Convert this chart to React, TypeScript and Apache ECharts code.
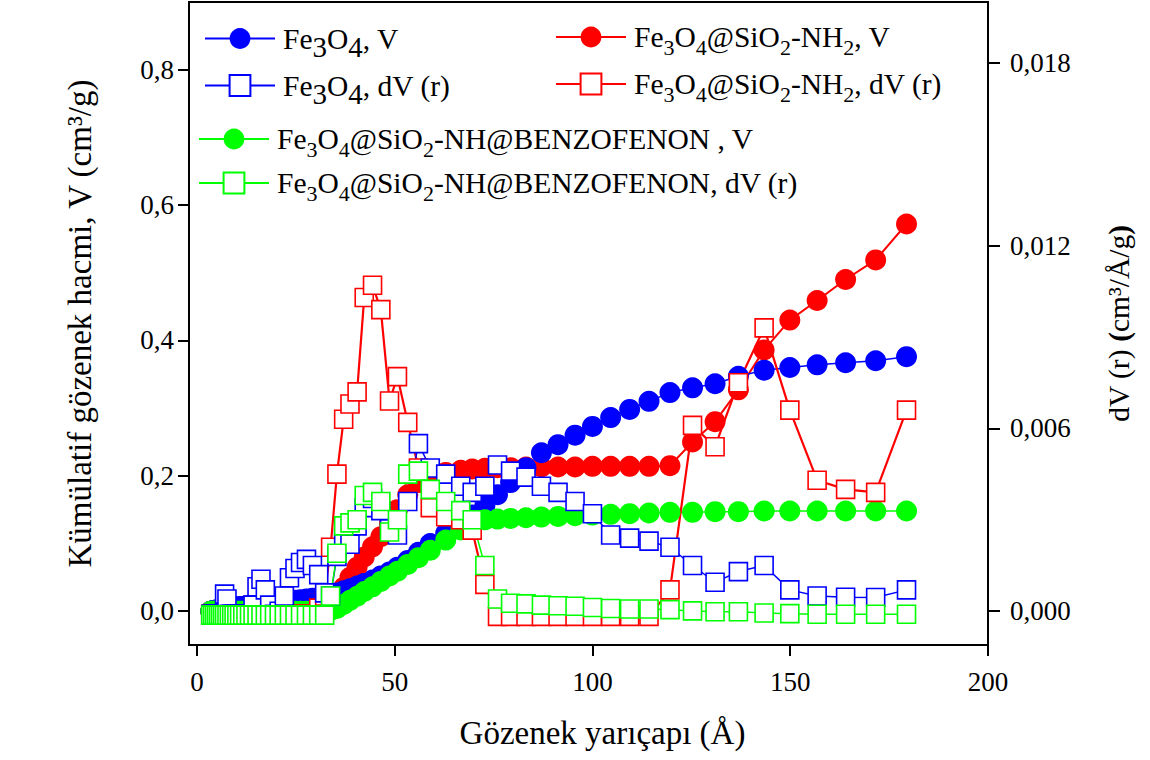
import React, { useEffect, useRef } from 'react';
import * as echarts from 'echarts';

const FONT = 'Liberation Serif';

// Pore radius (Å)
const radius = [
  3.5, 4.0, 4.5, 5.0, 5.5, 6.0, 6.5, 7.0,
  7.6, 8.2, 8.8, 9.4,
  10.1, 10.8, 11.6, 12.4, 13.3, 14.2, 15.2, 16.2, 17.3, 18.4,
  19.6, 20.8, 22.1, 23.4, 24.8, 26.2, 27.7, 29.2, 30.8, 32.3,
  33.8, 35.4, 37.1, 38.7, 40.5, 42.3, 44.4, 46.5, 48.7, 50.7,
  53.3, 56.0, 59.0, 62.9, 66.7, 69.6, 72.8, 76.0, 79.3, 83.2,
  87.1, 91.3, 95.6, 100.0, 104.6, 109.4, 114.3, 119.6, 125.3, 131.0,
  136.9, 143.4, 149.9, 156.8, 164.0, 171.6, 179.4,
];

// Fe3O4 cumulative pore volume V (cm3/g)
const fe3o4V = [
  0.000, 0.001, 0.001, 0.002, 0.002, 0.003, 0.003, 0.004,
  0.004, 0.005, 0.005, 0.006,
  0.006, 0.007, 0.007, 0.008, 0.008, 0.009, 0.010, 0.010, 0.011, 0.012,
  0.012, 0.013, 0.014, 0.015, 0.016, 0.017, 0.018, 0.019, 0.020, 0.022,
  0.024, 0.027, 0.030, 0.033, 0.037, 0.041, 0.046, 0.052, 0.058, 0.065,
  0.075, 0.087, 0.100, 0.115, 0.130, 0.142, 0.156, 0.172, 0.190, 0.212,
  0.234, 0.246, 0.260, 0.273, 0.286, 0.298, 0.310, 0.323, 0.330, 0.336,
  0.347, 0.356, 0.360, 0.364, 0.367, 0.370, 0.376,
];

// Fe3O4 dV(r) (cm3/Å/g)
const fe3o4DV = [
  -0.0001, -0.0001, -0.0001, -0.0001, -0.0001, -0.0001, -0.0001, 0.00056,
  0.0004, -0.0001, -0.0001, -0.0001,
  -0.0001, -0.0001, -0.0001, -0.0001, -0.0001, 0.0002, 0.0008, 0.00105, 0.0007, 0.0002,
  -0.0001, 0.0000, 0.0005, 0.0011, 0.0014, 0.0016, 0.0017, 0.0015, 0.0012, 0.0006,
  0.0005, 0.0018, 0.0024, 0.0022, 0.0028, 0.0034, 0.0037, 0.0033, 0.0027, 0.0025,
  0.0036, 0.0055, 0.0047, 0.0045, 0.0041, 0.0039, 0.0041, 0.0048, 0.0046, 0.0044,
  0.0041, 0.0039, 0.0036, 0.0032, 0.0025, 0.0024, 0.0023, 0.0021, 0.0015, 0.00095,
  0.0013, 0.0015, 0.0007, 0.0005, 0.00046, 0.00045, 0.0007,
];

// Fe3O4@SiO2-NH2 V
const nh2V = [
  0.000, 0.000, 0.000, 0.000, 0.000, 0.000, 0.000, 0.000,
  0.000, 0.000, 0.000, 0.000,
  0.000, 0.000, 0.000, 0.000, 0.000, 0.000, 0.000, 0.000, 0.000, 0.000,
  0.000, 0.000, 0.000, 0.000, 0.000, 0.000, 0.000, 0.000, 0.000, 0.003,
  0.008, 0.020, 0.035, 0.050, 0.065, 0.080, 0.095, 0.110, 0.130, 0.150,
  0.172, 0.190, 0.200, 0.205, 0.208, 0.210, 0.211, 0.212, 0.212, 0.213,
  0.213, 0.213, 0.213, 0.214, 0.214, 0.214, 0.214, 0.215, 0.250, 0.280,
  0.327, 0.386, 0.430, 0.459, 0.490, 0.519, 0.572,
];

// Fe3O4@SiO2-NH2 dV(r)
const nh2DV = [
  -0.0001, -0.0001, -0.0001, -0.0001, -0.0001, -0.0001, -0.0001, -0.0001,
  -0.0001, -0.0001, -0.0001, -0.0001,
  -0.0001, -0.0001, -0.0001, -0.0001, -0.0001, -0.0001, -0.0001, -0.0001, -0.0001, -0.0001,
  -0.0001, -0.0001, -0.0001, -0.0001, -0.0001, -0.0001, -0.0001, -0.0001, 0.0001, 0.0005,
  0.0021, 0.0045, 0.0063, 0.0068, 0.0072, 0.0103, 0.0107, 0.0099, 0.0069, 0.0077,
  0.0062, 0.0047, 0.0034, 0.0031, 0.0030, 0.00266, 0.00088, -0.00017, -0.00017, -0.00017,
  -0.00017, -0.00017, -0.00017, -0.00017, -0.00017, -0.00017, -0.00017, 0.0007, 0.0061, 0.0054,
  0.0075, 0.0093, 0.0066, 0.0043, 0.0040, 0.0039, 0.0066,
];

// Fe3O4@SiO2-NH@BENZOFENON V
const benzV = [
  0.000, 0.000, 0.000, 0.000, 0.000, 0.000, 0.000, 0.000,
  0.000, 0.000, 0.000, 0.000,
  0.000, 0.000, 0.000, 0.000, 0.000, 0.000, 0.000, 0.000, 0.000, 0.000,
  0.000, 0.000, 0.000, 0.000, 0.000, 0.000, 0.000, 0.000, 0.000, 0.000,
  0.001, 0.004, 0.010, 0.016, 0.022, 0.029, 0.036, 0.044, 0.052, 0.059,
  0.069, 0.079, 0.090, 0.105, 0.120, 0.130, 0.135, 0.136, 0.137, 0.138,
  0.139, 0.140, 0.141, 0.142, 0.143, 0.144, 0.145, 0.146, 0.146, 0.147,
  0.147, 0.148, 0.148, 0.148, 0.148, 0.148, 0.148,
];

// Fe3O4@SiO2-NH@BENZOFENON dV(r)
const benzDV = [
  -0.00013, -0.00013, -0.00013, -0.00013, -0.00013, -0.00013, -0.00013, -0.00013,
  -0.00013, -0.00013, -0.00013, -0.00013,
  -0.00013, -0.00013, -0.00013, -0.00013, -0.00013, -0.00013, -0.00013, -0.00013, -0.00013, -0.00013,
  -0.00013, -0.00013, -0.00013, -0.00013, -0.00013, -0.00013, -0.00013, -0.00013, -0.00013, -0.00013,
  0.0005, 0.0019, 0.0028, 0.0029, 0.0030, 0.0038, 0.0039, 0.0036, 0.0026, 0.0030,
  0.0045, 0.0046, 0.0040, 0.0036, 0.0033, 0.0030, 0.0015, 0.0004, 0.00026, 0.00024,
  0.00020, 0.00018, 0.00016, 0.00012, 0.00009, 0.00007, 0.00007, 0.00005, 0.00001, -0.00002,
  -0.00002, -0.00006, -0.00008, -0.0001, -0.0001, -0.0001, -0.0001,
];

const xTicks = [0, 50, 100, 150, 200];
const vTicks = [0, 0.2, 0.4, 0.6, 0.8];
const dvTicks = [0, 0.006, 0.012, 0.018];

const N1 = 'Fe3O4, V';
const N2 = 'Fe3O4, dV (r)';
const N3 = 'Fe3O4@SiO2-NH2, V';
const N4 = 'Fe3O4@SiO2-NH2, dV (r)';
const N5 = 'Fe3O4@SiO2-NH@BENZOFENON , V';
const N6 = 'Fe3O4@SiO2-NH@BENZOFENON, dV (r)';

const legendRich: Record<string, string> = {
  [N1]: '{n|Fe}{b|3}{n|O}{b|4}{n|, V}',
  [N2]: '{n|Fe}{b|3}{n|O}{b|4}{n|, dV (r)}',
  [N3]: '{n|Fe}{s|3}{n|O}{s|4}{n|@SiO}{s|2}{n|-NH}{s|2}{n|, V}',
  [N4]: '{n|Fe}{s|3}{n|O}{s|4}{n|@SiO}{s|2}{n|-NH}{s|2}{n|, dV (r)}',
  [N5]: '{n|Fe}{s|3}{n|O}{s|4}{n|@SiO}{s|2}{n|-NH@BENZOFENON , V}',
  [N6]: '{n|Fe}{s|3}{n|O}{s|4}{n|@SiO}{s|2}{n|-NH@BENZOFENON, dV (r)}',
};

const BLUE = '#0000ff';
const RED = '#ff0000';
const GREEN = '#00ff00';

function makeSeries(name: string, color: string, vals: number[], yAxisIndex: number, filled: boolean, lw: number) {
  return {
    type: 'line',
    name,
    yAxisIndex,
    data: radius.map((r, i) => [r, vals[i]]),
    symbol: filled ? 'circle' : 'rect',
    symbolSize: filled ? 21 : 18,
    showAllSymbol: true,
    lineStyle: { color, width: lw },
    itemStyle: filled
      ? { color, borderWidth: 0 }
      : { color: '#ffffff', borderColor: color, borderWidth: 1.6 },
    emphasis: { disabled: true },
    silent: true,
  };
}

const richStyles = {
  n: { fontSize: 29.5, fontFamily: FONT, color: '#000', lineHeight: 32 },
  s: { fontSize: 22, fontFamily: FONT, color: '#000', lineHeight: 32, padding: [20, 0, 0, 0] },
  b: { fontSize: 29, fontFamily: FONT, color: '#000', lineHeight: 32, padding: [16, 0, 0, 0] },
};

function legendItem(name: string, left: number, centerY: number) {
  return {
    data: [name],
    left,
    top: centerY - 13,
    orient: 'horizontal',
    padding: 0,
    itemWidth: 70,
    itemHeight: 26,
    selectedMode: false,
    formatter: (n: string) => legendRich[n] || n,
    textStyle: { fontFamily: FONT, fontSize: 29.5, color: '#000', rich: richStyles, padding: [0, 0, 0, 3] },
  };
}

const axisFont = { fontFamily: FONT, fontSize: 27, color: '#000' };
const titleFont = { fontFamily: FONT, fontSize: 33, color: '#000' };

export default function App() {
  const ref = useRef<HTMLDivElement>(null);
  useEffect(() => {
    if (!ref.current) return;
    const chart = echarts.init(ref.current, undefined, { renderer: 'svg' });
    chart.setOption({
      animation: false,
      backgroundColor: '#ffffff',
      grid: {
        left: 189, right: 162, top: 2, bottom: 115,
        show: true, borderColor: '#000', borderWidth: 2, backgroundColor: 'transparent',
        containLabel: false, outerBoundsMode: 'none',
      },
      legend: [
        legendItem(N1, 204, 29),
        legendItem(N2, 204, 76),
        legendItem(N3, 555, 29),
        legendItem(N4, 555, 76),
        legendItem(N5, 198, 131),
        legendItem(N6, 198, 175),
      ],
      xAxis: {
        type: 'value',
        min: -2,
        max: 200,
        name: 'Gözenek yarıçapı (Å)',
        nameLocation: 'middle',
        nameGap: 71,
        nameTextStyle: { ...titleFont, padding: [0, 0, 0, 28] },
        axisLine: { show: true, onZero: false, lineStyle: { color: '#000', width: 2 } },
        axisTick: { show: true, length: 11, inside: false, lineStyle: { color: '#000', width: 2 }, customValues: xTicks },
        axisLabel: { ...axisFont, margin: 23, customValues: xTicks },
        splitLine: { show: false },
      },
      yAxis: [
        {
          type: 'value',
          position: 'left',
          min: -0.05,
          max: 0.9,
          name: 'Kümülatif gözenek hacmi, V (cm³/g)',
          nameLocation: 'middle',
          nameRotate: 90,
          nameGap: 93,
          nameTextStyle: titleFont,
          axisLine: { show: true, onZero: false, lineStyle: { color: '#000', width: 2 } },
          axisTick: { show: true, length: 11, lineStyle: { color: '#000', width: 2 }, customValues: vTicks },
          axisLabel: {
            ...axisFont, margin: 15, customValues: vTicks,
            formatter: (v: number) => v.toFixed(1).replace('.', ','),
          },
          splitLine: { show: false },
        },
        {
          type: 'value',
          position: 'right',
          min: -0.00111,
          max: 0.02,
          name: '{t|dV (r) }{p|(}{t|cm³/Å/g}{p|)}',
          nameLocation: 'middle',
          nameRotate: 90,
          nameGap: 116,
          nameTextStyle: {
            fontFamily: FONT, fontSize: 29.5, color: '#000',
            rich: {
              t: { fontFamily: FONT, fontSize: 29.5, color: '#000' },
              p: { fontFamily: FONT, fontSize: 29.5, color: '#000', fontWeight: 'bold' },
            },
          },
          axisLine: { show: true, onZero: false, lineStyle: { color: '#000', width: 2 } },
          axisTick: { show: true, length: 12, lineStyle: { color: '#000', width: 2 }, customValues: dvTicks },
          axisLabel: {
            ...axisFont, margin: 22, customValues: dvTicks,
            formatter: (v: number) => v.toFixed(3).replace('.', ','),
          },
          splitLine: { show: false },
        },
      ],
      series: [
        makeSeries(N3, RED, nh2V, 0, true, 2),
        makeSeries(N1, BLUE, fe3o4V, 0, true, 1.5),
        makeSeries(N5, GREEN, benzV, 0, true, 1.5),
        makeSeries(N4, RED, nh2DV, 1, false, 2.2),
        makeSeries(N2, BLUE, fe3o4DV, 1, false, 1.5),
        makeSeries(N6, GREEN, benzDV, 1, false, 1.5),
      ],
    });
    return () => chart.dispose();
  }, []);
  return (
    <div
      ref={ref}
      style={{ position: 'fixed', left: 0, top: 0, width: 1150, height: 760, background: '#fff' }}
    />
  );
}
